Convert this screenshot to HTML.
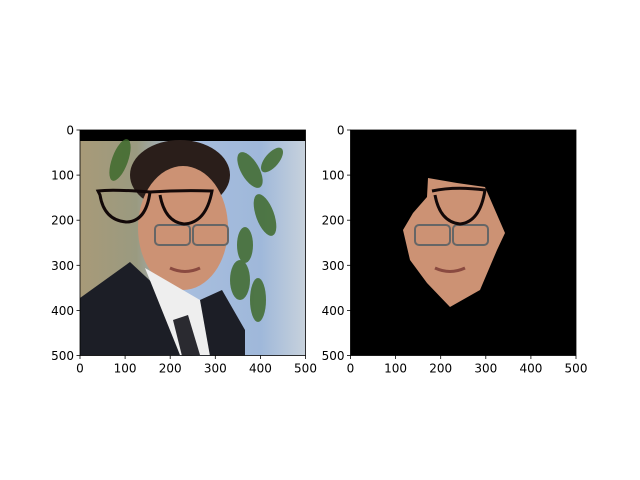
<!DOCTYPE html>
<html><head><meta charset="utf-8"><style>
html,body{margin:0;padding:0;background:#fff;}
svg{display:block;font-family:"DejaVu Sans","Liberation Sans",sans-serif;}
</style></head><body>
<svg id="fig" width="640" height="480" viewBox="0 0 640 480">
<defs>
<linearGradient id="bg" x1="0" x2="1" y1="0" y2="0">
<stop offset="0" stop-color="#a89a78"/><stop offset="0.25" stop-color="#9a9a80"/><stop offset="0.45" stop-color="#a8bede"/><stop offset="0.8" stop-color="#9fb8da"/><stop offset="1" stop-color="#c8d2dc"/>
</linearGradient>
<clipPath id="c1"><rect x="80" y="130" width="225.5" height="225.5"/></clipPath>
</defs>
<g clip-path="url(#c1)">
<rect x="80" y="130" width="226" height="226" fill="url(#bg)"/>
<rect x="80" y="130" width="226" height="11" fill="#000"/>
<g fill="#3f6a2c" opacity="0.85">
<ellipse cx="250" cy="170" rx="9" ry="20" transform="rotate(-30 250 170)"/>
<ellipse cx="272" cy="160" rx="7" ry="15" transform="rotate(40 272 160)"/>
<ellipse cx="265" cy="215" rx="9" ry="22" transform="rotate(-20 265 215)"/>
<ellipse cx="245" cy="245" rx="8" ry="18"/>
<ellipse cx="240" cy="280" rx="10" ry="20"/>
<ellipse cx="258" cy="300" rx="8" ry="22"/>
<ellipse cx="120" cy="160" rx="8" ry="22" transform="rotate(20 120 160)"/>
</g>
<ellipse cx="180" cy="175" rx="50" ry="35" fill="#2a1e1a"/>
<ellipse cx="183" cy="228" rx="45" ry="62" fill="#cc9274"/>
<path d="M170 268 Q185 275 200 268" stroke="#8a4a40" stroke-width="3" fill="none"/>
<rect x="155" y="225" width="35" height="20" rx="4" fill="none" stroke="#666" stroke-width="2"/>
<rect x="193" y="225" width="35" height="20" rx="4" fill="none" stroke="#666" stroke-width="2"/>
<path d="M130 262 L160 290 L180 355 L80 356 L80 298 Z" fill="#1c1e26"/>
<path d="M145 268 L200 300 L215 355 L180 355 Z" fill="#eeeeee"/>
<path d="M200 300 L222 290 L245 330 L245 356 L210 356 Z" fill="#1c1e26"/>
<path d="M173 320 L188 315 L200 355 L182 356 Z" fill="#2a2a30"/>
<g fill="none" stroke="#120808" stroke-width="3">
<path d="M98 191 Q112 189 150 192 Q146 222 126 222 Q104 220 100 195 Z"/>
<path d="M150 192 Q180 190 212 191 Q206 223 184 224 Q165 222 160 195"/>
</g>
</g>
<g>
<rect x="350.5" y="130" width="225.5" height="225.5" fill="#000"/>
<polygon points="428,178 457,183 485,187 495,210 505,233 497,250 480,290 450,307 427,283 410,260 403,230 413,213 427,197" fill="#cc9274"/>
<path d="M435 268 Q450 275 465 268" stroke="#8a4a40" stroke-width="3" fill="none"/>
<rect x="415" y="225" width="35" height="20" rx="4" fill="none" stroke="#666" stroke-width="2"/>
<rect x="453" y="225" width="35" height="20" rx="4" fill="none" stroke="#666" stroke-width="2"/>
<path d="M432 191 Q455 186 485 190 Q480 222 460 224 Q440 222 435 195" fill="none" stroke="#120808" stroke-width="3"/>
</g>
<g id="axes"></g>
</svg>
<script>
const tickValues = [0, 100, 200, 300, 400, 500];
const tickLabels = ["0", "100", "200", "300", "400", "500"];
const panels = [{x0: 80, y0: 130, name: "left"}, {x0: 350.5, y0: 130, name: "right"}];
const size = 225.5, maxV = 500;
const NS = "http://www.w3.org/2000/svg";
const g = document.getElementById("axes");
function mk(t, a){const e=document.createElementNS(NS,t);for(const k in a)e.setAttribute(k,a[k]);g.appendChild(e);return e;}
panels.forEach(p => {
  const sx = v => p.x0 + v / maxV * size;
  const sy = v => p.y0 + v / maxV * size;
  const fr = mk("rect", {x:p.x0, y:p.y0, width:size, height:size, fill:"none", stroke:"#000", "stroke-width":0.8});
  
  
  tickValues.forEach((v, i) => {
    const x = sx(v), y = sy(v);
    mk("line", {x1:x, x2:x, y1:p.y0+size, y2:p.y0+size+3.5, stroke:"#000", "stroke-width":0.8});
    const tx = mk("text", {x:x, y:p.y0+size+17, "font-size":"12", "text-anchor":"middle", fill:"#000"});
    tx.textContent = tickLabels[i];
    
    
    mk("line", {x1:p.x0-3.5, x2:p.x0, y1:y, y2:y, stroke:"#000", "stroke-width":0.8});
    const ty = mk("text", {x:p.x0-6, y:y+4.5, "font-size":"12", "text-anchor":"end", fill:"#000"});
    ty.textContent = tickLabels[i];
    
    
  });
});
</script>
</body></html>
